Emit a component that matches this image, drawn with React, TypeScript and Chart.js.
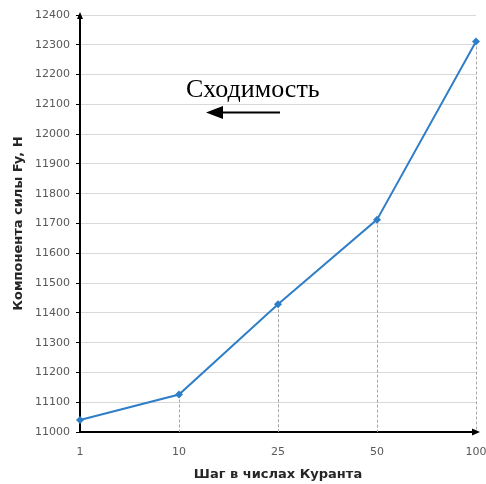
import React, { useEffect, useRef } from "react";
import { Chart, registerables } from "chart.js";

Chart.register(...registerables);

const categories = ["1", "10", "25", "50", "100"];
const forceValues = [11040, 11126, 11429, 11713, 12311];
const yMin = 11000;
const yMax = 12400;
const yStep = 100;
const xTitle = "Шаг в числах Куранта";
const yTitle = "Компонента силы Fy, Н";
const annotationText = "Сходимость";

const LINE_COLOR = "#2f7ec8";
const SANS = "'DejaVu Sans', Verdana, sans-serif";

const overlayPlugin = {
  id: "overlay",
  beforeDatasetsDraw(chart: any) {
    const { ctx, chartArea } = chart;
    const meta = chart.getDatasetMeta(0);
    ctx.save();
    ctx.strokeStyle = "#a6a6a6";
    ctx.lineWidth = 1;
    ctx.setLineDash([3, 2]);
    meta.data.forEach((pt: any, i: number) => {
      if (i === 0) return;
      const x = Math.round(pt.x) + 0.5;
      ctx.beginPath();
      ctx.moveTo(x, pt.y);
      ctx.lineTo(x, chartArea.bottom);
      ctx.stroke();
    });
    ctx.restore();
  },
  afterDraw(chart: any) {
    const { ctx, chartArea } = chart;
    ctx.save();
    // axis arrowheads
    ctx.fillStyle = "#000";
    ctx.beginPath();
    ctx.moveTo(chartArea.right + 4, chartArea.bottom);
    ctx.lineTo(chartArea.right - 4, chartArea.bottom - 3.5);
    ctx.lineTo(chartArea.right - 4, chartArea.bottom + 3.5);
    ctx.closePath();
    ctx.fill();
    ctx.beginPath();
    ctx.moveTo(chartArea.left, chartArea.top - 3);
    ctx.lineTo(chartArea.left - 3, chartArea.top + 4);
    ctx.lineTo(chartArea.left + 3, chartArea.top + 4);
    ctx.closePath();
    ctx.fill();
    // annotation
    ctx.fillStyle = "#000";
    ctx.font = "26px 'Liberation Serif', 'Times New Roman', serif";
    ctx.textBaseline = "alphabetic";
    ctx.textAlign = "left";
    ctx.fillText(annotationText, 186, 97);
    ctx.strokeStyle = "#000";
    ctx.lineWidth = 2;
    ctx.beginPath();
    ctx.moveTo(280, 112.5);
    ctx.lineTo(216, 112.5);
    ctx.stroke();
    ctx.beginPath();
    ctx.moveTo(206, 112.5);
    ctx.lineTo(223, 106);
    ctx.lineTo(223, 119);
    ctx.closePath();
    ctx.fill();
    ctx.restore();
  },
};

export default function App() {
  const canvasRef = useRef<HTMLCanvasElement | null>(null);

  useEffect(() => {
    if (!canvasRef.current) return;
    const chart = new Chart(canvasRef.current, {
      type: "line",
      data: {
        labels: categories,
        datasets: [
          {
            data: forceValues,
            borderColor: LINE_COLOR,
            backgroundColor: LINE_COLOR,
            borderWidth: 2,
            pointStyle: "rectRot",
            pointRadius: 4,
            pointBorderWidth: 0,
            tension: 0,
            clip: false,
          },
        ],
      },
      options: {
        responsive: false,
        animation: false,
        maintainAspectRatio: false,
        layout: { padding: { left: 8, right: 10, top: 15, bottom: 2 } },
        plugins: { legend: { display: false }, tooltip: { enabled: false } },
        scales: {
          x: {
            type: "category",
            offset: false,
            grid: { display: false, drawTicks: false },
            border: { display: true, color: "#000", width: 2 },
            ticks: {
              color: "#595959",
              font: { family: SANS, size: 11 },
              padding: 14,
              maxRotation: 0,
              autoSkip: false,
            },
            title: {
              display: true,
              text: xTitle,
              color: "#262626",
              font: { family: SANS, size: 13, weight: "bold" },
              padding: { top: 4, bottom: 0 },
            },
            afterFit(scale: any) {
              scale.height = 50;
              scale.paddingLeft = 0;
              scale.paddingRight = 0;
            },
          },
          y: {
            min: yMin,
            max: yMax,
            grid: {
              color: "#d9d9d9",
              lineWidth: 1,
              tickColor: "#000",
              tickLength: 4,
            },
            border: { display: true, color: "#000", width: 2 },
            ticks: {
              stepSize: yStep,
              color: "#595959",
              font: { family: SANS, size: 11 },
              padding: 6,
              callback: (v: any) => String(v),
            },
            title: {
              display: true,
              text: yTitle,
              color: "#262626",
              font: { family: SANS, size: 13, weight: "bold" },
              padding: { top: 3, bottom: 4 },
            },
            afterFit(scale: any) {
              scale.width = 72;
              scale.paddingTop = 0;
              scale.paddingBottom = 0;
            },
          },
        },
      },
      plugins: [overlayPlugin],
    } as any);
    return () => chart.destroy();
  }, []);

  return (
    <div style={{ position: "fixed", left: 0, top: 0, width: 486, height: 484, background: "#fff" }}>
      <canvas ref={canvasRef} width={486} height={484} style={{ width: 486, height: 484 }} />
    </div>
  );
}
